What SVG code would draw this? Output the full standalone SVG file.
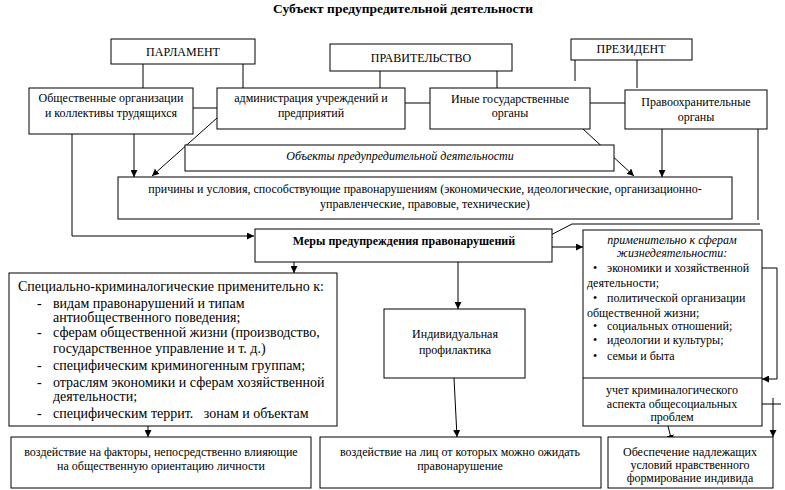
<svg xmlns="http://www.w3.org/2000/svg" width="785" height="490" viewBox="0 0 785 490">
<style>
.b{fill:#fff;stroke:#000;stroke-width:1}
text{font-family:'Liberation Serif','Times New Roman','DejaVu Serif',serif;font-size:12px;fill:#000}
.c{text-anchor:middle}
.i{font-style:italic}
.bd{font-weight:bold}
.l{font-size:14px}
.k path,.k line{fill:none;stroke:#000;stroke-width:1}
</style>
<defs>
<marker id="a" viewBox="0 0 10 10" refX="10" refY="5" markerWidth="7" markerHeight="7" orient="auto" markerUnits="userSpaceOnUse">
<path d="M0,0 L10,5 L0,10 z" fill="#000"/>
</marker>
</defs>
<rect width="785" height="490" fill="#fff"/>
<text class="c bd" x="403" y="13" font-family="Liberation Serif, serif" style="font-size:13.5px">Субъект предупредительной деятельности</text>

<g class="k">
<line x1="143" y1="64" x2="143" y2="88"/>
<line x1="243" y1="64" x2="243" y2="88"/>
<line x1="380" y1="71" x2="380" y2="88"/>
<line x1="497" y1="71" x2="497" y2="88"/>
<line x1="575" y1="60" x2="575" y2="81"/>
<line x1="637" y1="60" x2="637" y2="88"/>
<line x1="193" y1="108" x2="217" y2="108"/>
<line x1="405" y1="103" x2="430" y2="103"/>
<line x1="590" y1="103" x2="625" y2="103"/>
<path d="M72,134 V236 H254" marker-end="url(#a)"/>
<path d="M134,134 V177" marker-end="url(#a)"/>
<path d="M217,118 L152,176" marker-end="url(#a)"/>
<path d="M583,129 L634,176" marker-end="url(#a)"/>
<path d="M662,129 V177" marker-end="url(#a)"/>
<line x1="758" y1="129" x2="758" y2="220"/>
<path d="M760,224 H572 L545,238" marker-end="url(#a)"/>
<path d="M552,247 H583" marker-end="url(#a)"/>
<path d="M294,262 V273" marker-end="url(#a)"/>
<path d="M458,262 V309" marker-end="url(#a)"/>
<path d="M454,378 L457,437" marker-end="url(#a)"/>
<path d="M148,426 V437" marker-end="url(#a)"/>
<path d="M762,268 H777 V379 H762" marker-end="url(#a)"/>
<line x1="762" y1="404" x2="781" y2="404"/>
<path d="M773,398 V437" marker-end="url(#a)"/>
<path d="M668,426 L672,442" marker-end="url(#a)"/>
</g>

<g id="parliament"><rect class="b" x="111" y="39" width="144" height="25"/><text class="c" x="183" y="56">ПАРЛАМЕНТ</text></g>
<g id="government"><rect class="b" x="330" y="44" width="182" height="27"/><text class="c" x="421" y="62">ПРАВИТЕЛЬСТВО</text></g>
<g id="president"><rect class="b" x="571" y="39" width="121" height="21"/><text class="c" x="631" y="53">ПРЕЗИДЕНТ</text></g>

<g id="public-orgs"><rect class="b" x="29" y="88" width="164" height="46"/><text class="c" x="111" y="102">Общественные организации</text><text class="c" x="111" y="117">и коллективы трудящихся</text></g>
<g id="administration"><rect class="b" x="217" y="88" width="188" height="41"/><text class="c" x="311" y="102">администрация учреждений и</text><text class="c" x="311" y="117">предприятий</text></g>
<g id="other-state"><rect class="b" x="430" y="88" width="160" height="41"/><text class="c" x="510" y="103">Иные государственные</text><text class="c" x="510" y="117">органы</text></g>
<g id="law-enforcement"><rect class="b" x="625" y="90" width="142" height="39"/><text class="c" x="696" y="106">Правоохранительные</text><text class="c" x="696" y="121">органы</text></g>

<g id="objects"><rect class="b" x="185" y="145" width="429" height="26"/><text class="c i" x="400" y="160">Объекты предупредительной деятельности</text></g>
<g id="causes"><rect class="b" x="118" y="177" width="614" height="42"/><text class="c" x="425" y="193">причины и условия, способствующие правонарушениям (экономические, идеологические, организационно-</text><text class="c" x="425" y="208">управленческие, правовые, технические)</text></g>

<g id="measures"><rect class="b" x="255" y="229" width="297" height="33"/><text class="c bd" x="404" y="245">Меры предупреждения правонарушений</text></g>

<g id="spheres"><rect class="b" x="583" y="230" width="179" height="196"/><line x1="583" y1="378" x2="762" y2="378" stroke="#000"/>
<text class="c i" x="672" y="244">применительно к сферам</text>
<text class="c i" x="672" y="257">жизнедеятельности:</text>
<text x="593" y="272">•</text><text x="607" y="272">экономики и хозяйственной</text>
<text x="587" y="287">деятельности;</text>
<text x="593" y="302">•</text><text x="607" y="302">политической организации</text>
<text x="587" y="317">общественной жизни;</text>
<text x="593" y="330">•</text><text x="607" y="330">социальных отношений;</text>
<text x="593" y="344">•</text><text x="607" y="344">идеологии и культуры;</text>
<text x="593" y="360">•</text><text x="607" y="360">семьи и быта</text>
<text class="c" x="672" y="394">учет криминалогического</text>
<text class="c" x="672" y="408">аспекта общесоциальных</text>
<text class="c" x="672" y="421">проблем</text>
</g>

<g id="special"><rect class="b" x="9" y="273" width="328" height="153"/>
<text class="l" x="18" y="291">Специально-криминалогические применительно к:</text>
<text class="l" x="37" y="308">-</text><text class="l" x="53" y="308">видам правонарушений и типам</text>
<text class="l" x="53" y="322">антиобщественного поведения;</text>
<text class="l" x="37" y="337">-</text><text class="l" x="53" y="337">сферам общественной жизни (производство,</text>
<text class="l" x="53" y="353">государственное управление и т. д.)</text>
<text class="l" x="37" y="370">-</text><text class="l" x="53" y="370">специфическим криминогенным группам;</text>
<text class="l" x="37" y="387">-</text><text class="l" x="53" y="387">отраслям экономики и сферам хозяйственной</text>
<text class="l" x="53" y="401">деятельности;</text>
<text class="l" x="37" y="418">-</text><text class="l" x="53" y="418" xml:space="preserve">специфическим террит.   зонам и объектам</text>
</g>

<g id="individual"><rect class="b" x="384" y="309" width="141" height="69"/><text class="c" x="455" y="338">Индивидуальная</text><text class="c" x="455" y="354">профилактика</text></g>

<g id="factors"><rect class="b" x="11" y="437" width="300" height="51"/><text class="c" x="161" y="456">воздействие на факторы, непосредственно влияющие</text><text class="c" x="161" y="470">на общественную ориентацию личности</text></g>
<g id="persons"><rect class="b" x="320" y="437" width="281" height="51"/><text class="c" x="460" y="456">воздействие на лиц от которых можно ожидать</text><text class="c" x="460" y="470">правонарушение</text></g>
<g id="conditions"><rect class="b" x="608" y="437" width="165" height="51"/><text class="c" x="690" y="456">Обеспечение надлежащих</text><text class="c" x="690" y="469">условий нравственного</text><text class="c" x="690" y="482">формирование индивида</text></g>
</svg>
